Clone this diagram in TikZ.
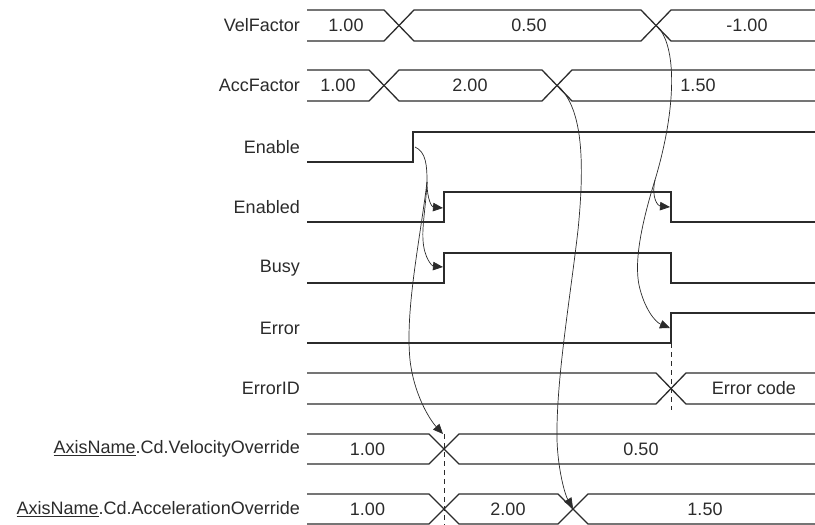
\documentclass[tikz,border=0pt]{standalone}
\usepackage{fontspec}
\setmainfont{Liberation Sans}
\usetikzlibrary{arrows.meta}
\definecolor{ink}{HTML}{2B2B2B}
\begin{document}
\begin{tikzpicture}[x=1pt,y=-1pt,
  sig/.style={draw=ink,line width=1.3pt,line join=miter},
  lbl/.style={anchor=east,inner sep=0pt,text=ink,font=\fontsize{18}{20}\selectfont},
  val/.style={inner sep=0pt,text=ink,font=\fontsize{18}{20}\selectfont},
  flow/.style={draw=ink,line width=0.7pt,-{Triangle[length=10pt,width=8.5pt]}},
  flowplain/.style={draw=ink,line width=0.7pt},
  guide/.style={draw=ink,line width=0.8pt,dash pattern=on 5pt off 4pt}]
\useasboundingbox (0,0) rectangle (815,525);
% labels
\node[lbl] (lVel) at (300,25.5) {VelFactor};
\node[lbl] (lAcc) at (300,85.5) {AccFactor};
\node[lbl] (lEn) at (300,147) {Enable};
\node[lbl] (lEnd) at (300,207) {Enabled};
\node[lbl] (lBusy) at (300,268) {Busy};
\node[lbl] (lErr) at (300,328) {Error};
\node[lbl] (lErrID) at (300,388.5) {ErrorID};
\node[lbl] (lVO) at (300,449) {\underline{AxisName}.Cd.VelocityOverride};
\node[lbl] (lAO) at (300,509) {\underline{AxisName}.Cd.AccelerationOverride};
% VelFactor bus
\draw[sig] (307,10) -- (384,10) -- (414,41) -- (641,41) -- (671,10) -- (815,10);
\draw[sig] (307,41) -- (384,41) -- (414,10) -- (641,10) -- (671,41) -- (815,41);
\node[val] (v1) at (346,25.5) {1.00};
\node[val] (v2) at (529,25.5) {0.50};
\node[val] (v3) at (747,25.5) {-1.00};
% AccFactor bus
\draw[sig] (307,70) -- (369,70) -- (399,101) -- (542,101) -- (572,70) -- (815,70);
\draw[sig] (307,101) -- (369,101) -- (399,70) -- (542,70) -- (572,101) -- (815,101);
\node[val] (a1) at (338,85.5) {1.00};
\node[val] (a2) at (470,85.5) {2.00};
\node[val] (a3) at (698,85.5) {1.50};
% Enable
\draw[sig] (307,162) -- (413,162) -- (413,132) -- (815,132);
% Enabled
\draw[sig] (307,222) -- (444,222) -- (444,192) -- (671,192) -- (671,222) -- (815,222);
% Busy
\draw[sig] (307,283) -- (444,283) -- (444,253) -- (671,253) -- (671,283) -- (815,283);
% Error
\draw[sig] (307,343) -- (671,343) -- (671,313) -- (815,313);
% ErrorID bus
\draw[sig] (307,373) -- (656,373) -- (686,404) -- (815,404);
\draw[sig] (307,404) -- (656,404) -- (686,373) -- (815,373);
\node[val] (e1) at (754,388.5) {Error code};
% VelocityOverride bus
\draw[sig] (307,434) -- (429,434) -- (459,464) -- (815,464);
\draw[sig] (307,464) -- (429,464) -- (459,434) -- (815,434);
\node[val] (o1) at (367.5,449) {1.00};
\node[val] (o2) at (641,449) {0.50};
% AccelerationOverride bus
\draw[sig] (307,494) -- (429,494) -- (459,524) -- (558,524) -- (588,494) -- (815,494);
\draw[sig] (307,524) -- (429,524) -- (459,494) -- (558,494) -- (588,524) -- (815,524);
\node[val] (p1) at (367.5,509) {1.00};
\node[val] (p2) at (508,509) {2.00};
\node[val] (p3) at (705,509) {1.50};
% guide lines
\coordinate (gA) at (444,434);
\coordinate (gAe) at (444,525);
\coordinate (gB) at (671,343);
\coordinate (gBe) at (671,410);
\draw[guide] (gA) -- (gAe);
\draw[guide] (gB) -- (gBe);
% connector end points
\coordinate (EnRise) at (415,147);
\coordinate (EnFork) at (427,182);
\coordinate (EndRise) at (443,208);
\coordinate (BusyRise) at (443,267);
\coordinate (VOx) at (443,434);
\coordinate (VelX) at (656,25);
\coordinate (VelFork) at (655,180);
\coordinate (EndFall) at (670,207);
\coordinate (ErrRise) at (670,328);
\coordinate (AccX) at (557,85);
\coordinate (AOx) at (573,508);
% Enable connectors
\draw[flowplain] (EnRise) .. controls (426,152) and (427,165) .. (EnFork);
\draw[flow] (EnFork) .. controls (427,200) and (432,207) .. (EndRise);
\draw[flow] (EnFork) .. controls (426,205) and (422,225) .. (423,240) .. controls (424,258) and (432,266) .. (BusyRise);
\draw[flow] (EnFork) .. controls (420,240) and (405,310) .. (410,360) .. controls (414,395) and (430,420) .. (VOx);
% VelFactor connectors
\draw[flowplain] (VelX) .. controls (678,45) and (676,110) .. (VelFork);
\draw[flow] (VelFork) .. controls (642,222) and (634,260) .. (639,285) .. controls (644,308) and (655,322) .. (ErrRise);
\draw[flow] (VelFork) .. controls (651,198) and (658,206) .. (EndFall);
% AccFactor connector
\draw[flow] (AccX) .. controls (580,105) and (586,150) .. (578,230) .. controls (570,300) and (556,380) .. (557,440) .. controls (558,470) and (565,495) .. (AOx);
\end{tikzpicture}
\end{document}
